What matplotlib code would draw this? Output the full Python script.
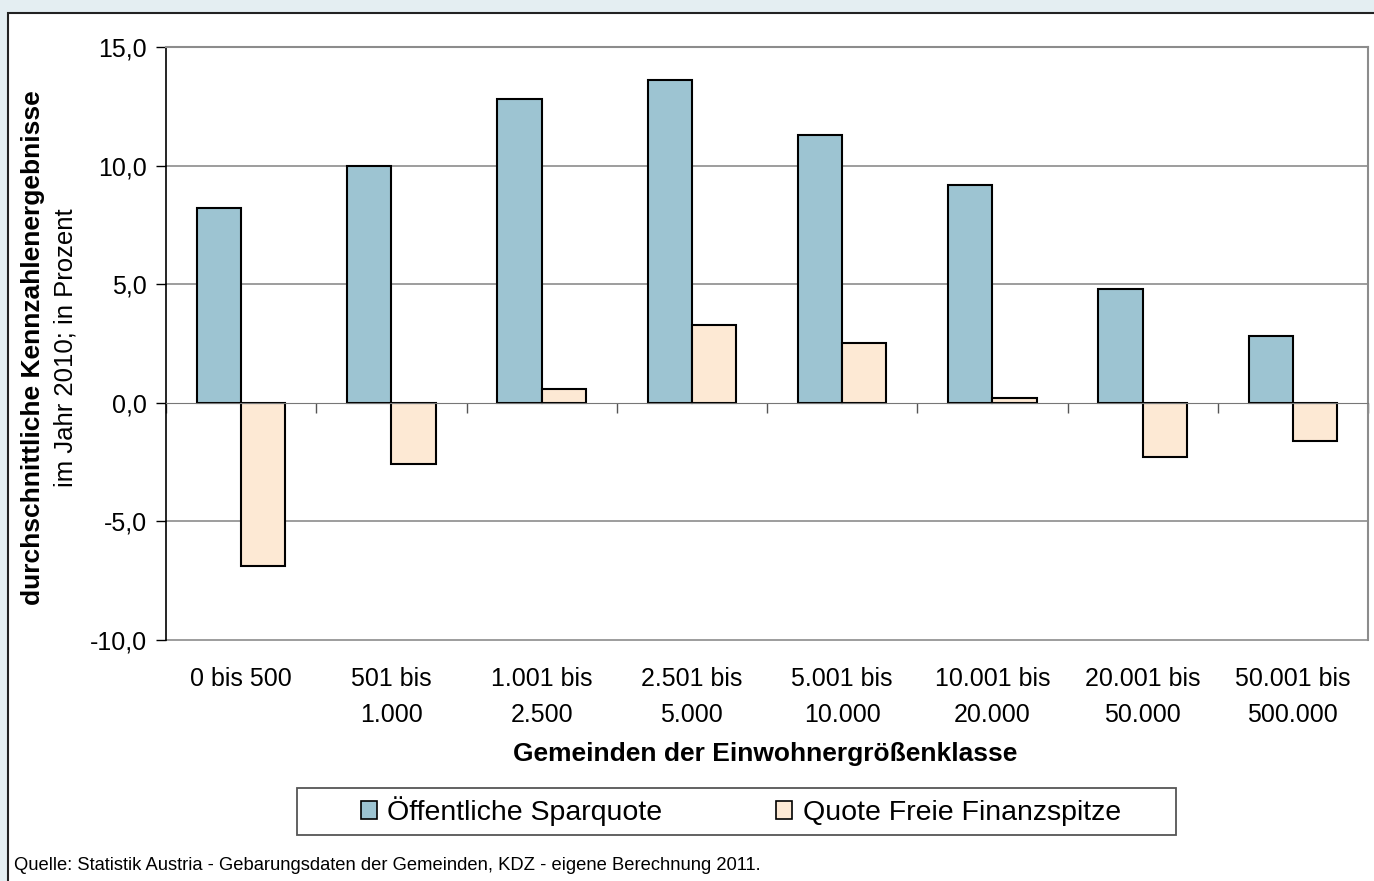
import matplotlib
matplotlib.use("Agg")
import matplotlib.pyplot as plt
from matplotlib.patches import Rectangle
import numpy as np

plt.rcParams['font.family'] = ['Liberation Sans', 'DejaVu Sans']

categories = ["0 bis 500", "501 bis\n1.000", "1.001 bis\n2.500", "2.501 bis\n5.000",
              "5.001 bis\n10.000", "10.001 bis\n20.000", "20.001 bis\n50.000", "50.001 bis\n500.000"]
sparquote = [8.2, 10.0, 12.8, 13.6, 11.3, 9.2, 4.8, 2.8]
finanzspitze = [-6.9, -2.6, 0.6, 3.3, 2.5, 0.2, -2.3, -1.6]
series_names = ["Öffentliche Sparquote", "Quote Freie Finanzspitze"]
yticks = [-10, -5, 0, 5, 10, 15]

W, H = 1374, 881
fig = plt.figure(figsize=(W / 100, H / 100), dpi=100)
fig.patch.set_facecolor("#e4eef2")

# white panel with dark frame
panel = Rectangle((8 / W, -0.01), 1.02, 1.01 - 13 / H, transform=fig.transFigure,
                  facecolor="white", edgecolor="#222222", linewidth=1.5, zorder=-10)
fig.patches.append(panel)

ax = fig.add_axes([166 / W, 1 - 640 / H, (1368 - 166) / W, (640 - 47) / H])
ax.set_facecolor("white")

x = np.arange(len(categories))
bw = 0.295
ax.bar(x - bw / 2, sparquote, bw, color="#9dc4d2", edgecolor="black", linewidth=1.5,
       label=series_names[0], zorder=3)
ax.bar(x + bw / 2, finanzspitze, bw, color="#fde9d4", edgecolor="black", linewidth=1.5,
       label=series_names[1], zorder=3)

ax.set_xlim(-0.5, len(categories) - 0.5)
ax.set_ylim(-10, 15)
ax.set_yticks(yticks)
ax.set_yticklabels([f"{v:.1f}".replace(".", ",") for v in yticks], fontsize=18)
ax.tick_params(axis="y", length=7, width=1, color="black", pad=7)

for v in yticks:
    if v != 0:
        ax.axhline(v, color="#8c8c8c", linewidth=1.2, zorder=1, clip_on=False)

# x axis at zero with boundary ticks
ax.spines["bottom"].set_position(("data", 0))
ax.spines["bottom"].set_color("#777777")
ax.spines["bottom"].set_zorder(4)
ax.set_xticks(np.arange(len(categories) + 1) - 0.5)
ax.set_xticklabels([])
ax.tick_params(axis="x", direction="out", length=7, width=1, color="#555555")

ax.spines["left"].set_color("black")
ax.spines["left"].set_linewidth(1.2)
ax.spines["top"].set_color("#8c8c8c")
ax.spines["right"].set_color("#8c8c8c")
ax.spines["right"].set_linewidth(1.5)
ax.spines["top"].set_linewidth(1.5)

for i, c in enumerate(categories):
    ax.text(i, -11.15, c, ha="center", va="top", fontsize=18, linespacing=1.6)

fig.text(765 / W, 1 - 754 / H, "Gemeinden der Einwohnergrößenklasse", ha="center",
         va="center", fontsize=19, fontweight="bold")

fig.text(33 / W, 1 - 348 / H, "durchschnittliche Kennzahlenergebnisse", rotation=90,
         ha="center", va="center", fontsize=19, fontweight="bold")
fig.text(66 / W, 1 - 348 / H, "im Jahr 2010; in Prozent", rotation=90,
         ha="center", va="center", fontsize=18.5)

# legend box
legbox = Rectangle((297 / W, 1 - 835 / H), (1176 - 297) / W, (835 - 788) / H,
                   transform=fig.transFigure, facecolor="white", edgecolor="#555555",
                   linewidth=1.3, zorder=1)
fig.patches.append(legbox)
leg = fig.legend(loc="center", bbox_to_anchor=(741 / W, 1 - 811 / H), ncol=2,
                 fontsize=20.5, frameon=False,
                 handlelength=0.56, handleheight=0.56, handletextpad=0.38,
                 columnspacing=4.0, borderpad=0.2)
leg.set_zorder(2)
for h in leg.legend_handles:
    h.set_linewidth(1.2)

fig.text(14 / W, 1 - 866 / H,
         "Quelle: Statistik Austria - Gebarungsdaten der Gemeinden, KDZ - eigene Berechnung 2011.",
         ha="left", va="center", fontsize=13.2)

fig.savefig("out.png", dpi=100, facecolor=fig.get_facecolor())
